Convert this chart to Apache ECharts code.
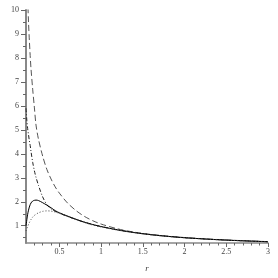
<!DOCTYPE html>
<html><head><meta charset="utf-8">
<script src="https://cdn.jsdelivr.net/npm/echarts@6/dist/echarts.min.js"></script>
<style>html,body{margin:0;padding:0;background:#fff}#c{width:278px;height:278px}</style>
</head><body><div id="c"></div>
<script>
var rValues = [0.1,0.11,0.12,0.13,0.14,0.15,0.16,0.18,0.2,0.22,0.25,0.3,0.35,0.4,0.45,0.5,0.6,0.7,0.8,0.9,1.0,1.2,1.4,1.6,1.8,2.0,2.25,2.5,2.75,3.0];
var dashedValues = [13.5,11.8,10.5,9.5,8.75,8.1,7.55,6.7,5.95,5.2,4.6,3.9,3.35,2.95,2.62,2.36,1.94,1.63,1.39,1.21,1.07,0.87,0.73,0.635,0.565,0.508,0.452,0.407,0.37,0.338];
var dashDotValues = [5.9,5.4,5.05,4.8,4.55,4.35,4.1,3.65,3.3,3.02,2.68,2.2,1.88,1.7,1.6,1.52,1.39,1.26,1.15,1.05,0.97,0.83,0.715,0.628,0.558,0.502,0.447,0.402,0.366,0.335];
var solidValues = [1.0,1.25,1.48,1.65,1.78,1.88,1.95,2.03,2.06,2.07,2.05,1.96,1.86,1.75,1.63,1.54,1.4,1.27,1.15,1.05,0.965,0.825,0.713,0.626,0.556,0.5,0.445,0.4,0.364,0.333];
var dottedValues = [0.78,0.88,0.97,1.05,1.13,1.2,1.26,1.36,1.43,1.48,1.54,1.6,1.62,1.61,1.57,1.52,1.38,1.25,1.13,1.03,0.95,0.815,0.706,0.62,0.552,0.497,0.443,0.398,0.362,0.331];
var xTickLabels = [0.5,1,1.5,2,2.5,3];
var xMinorTicks = [0.2,0.3,0.4,0.6,0.7,0.8,0.9,1.1,1.2,1.3,1.4,1.6,1.7,1.8,1.9,2.1,2.2,2.3,2.4,2.6,2.7,2.8,2.9];
var yTickLabels = [1,2,3,4,5,6,7,8,9,10];
var yMinorTicks = [0.5,1.5,2.5,3.5,4.5,5.5,6.5,7.5,8.5,9.5];

function pairs(vals){ return rValues.map(function(r,i){ return [r, vals[i]]; }); }
var lab = {fontFamily:'Liberation Serif', fontSize:8, color:'#444'};
var chart = echarts.init(document.getElementById('c'), null, {renderer:'canvas'});
chart.setOption({
  animation:false,
  backgroundColor:'#fff',
  grid:{left:26, right:10, top:10, bottom:32},
  xAxis:[{
    type:'value', min:0.1, max:3,
    name:'r', nameLocation:'middle', nameGap:21,
    nameTextStyle:{fontFamily:'Liberation Serif', fontStyle:'italic', fontSize:9, color:'#444'},
    axisLine:{show:true, onZero:false, lineStyle:{color:'#888', width:1.5}},
    axisTick:{show:true, customValues:xTickLabels, length:4, lineStyle:{color:'#666'}},
    axisLabel:Object.assign({customValues:xTickLabels, margin:5}, lab),
    splitLine:{show:false}
  },{
    type:'value', min:0.1, max:3, position:'bottom',
    axisLine:{show:false},
    axisTick:{show:true, customValues:xMinorTicks, length:2.5, lineStyle:{color:'#666'}},
    axisLabel:{show:false}, splitLine:{show:false}
  }],
  yAxis:[{
    type:'value', min:0.28, max:10,
    axisLine:{show:true, onZero:false, lineStyle:{color:'#888', width:2}},
    axisTick:{show:true, customValues:yTickLabels, length:5, lineStyle:{color:'#666'}},
    axisLabel:Object.assign({customValues:yTickLabels, margin:7}, lab),
    splitLine:{show:false}
  },{
    type:'value', min:0.28, max:10, position:'left',
    axisLine:{show:false},
    axisTick:{show:true, customValues:yMinorTicks, length:3, lineStyle:{color:'#666'}},
    axisLabel:{show:false}, splitLine:{show:false}
  }],
  series:[
    {type:'line', data:pairs(dashedValues), showSymbol:false, smooth:0.3, clip:true,
     lineStyle:{color:'#555', width:1, type:[6,3]}},
    {type:'line', data:pairs(dashDotValues), showSymbol:false, smooth:0.3, clip:true,
     lineStyle:{color:'#222', width:1, type:[4,2,1,2]}},
    {type:'line', data:pairs(solidValues), showSymbol:false, smooth:0.3, clip:true,
     lineStyle:{color:'#000', width:1, type:'solid'}},
    {type:'line', data:pairs(dottedValues), showSymbol:false, smooth:0.3, clip:true,
     lineStyle:{color:'#444', width:1, type:[1,2]}}
  ]
});
</script></body></html>
